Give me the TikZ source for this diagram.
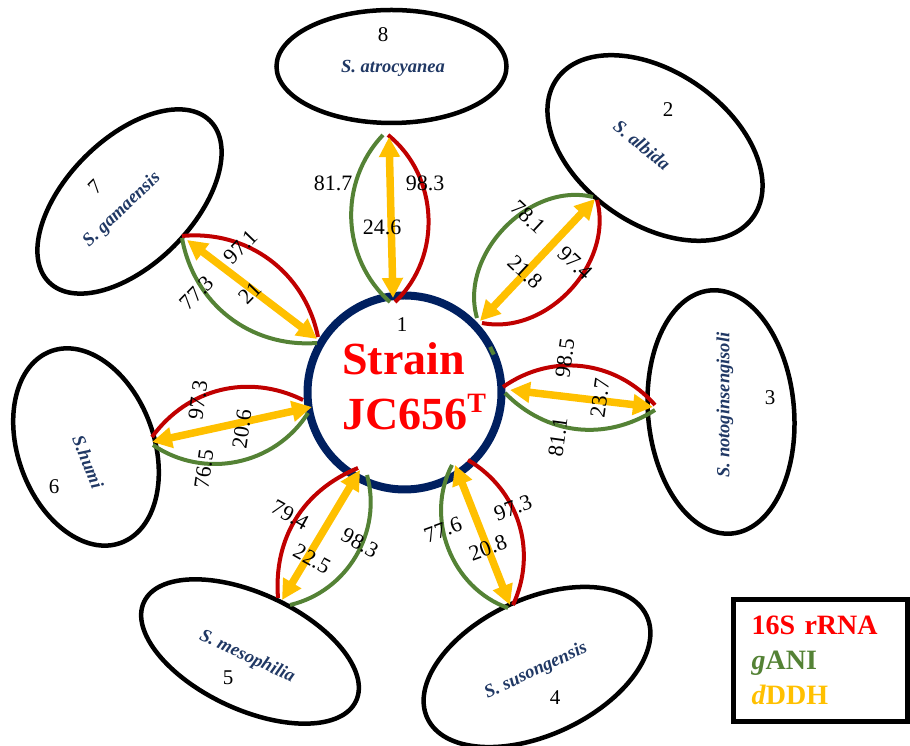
\documentclass[tikz,border=0pt]{standalone}
\usepackage{fontspec}
\setmainfont{Liberation Serif}
\usetikzlibrary{arrows.meta, shapes.geometric}
\definecolor{ringblue}{HTML}{002060}
\definecolor{taxblue}{HTML}{203864}
\definecolor{rrnared}{HTML}{C00000}
\definecolor{anigreen}{HTML}{548235}
\definecolor{ddhgold}{HTML}{FFC000}
\definecolor{keyred}{HTML}{FF0000}
\tikzset{
  ring/.style = {draw=ringblue, circle, line width=8pt, minimum size=194pt, inner sep=0pt, outer sep=0pt},
  taxon/.style = {draw, ellipse, line width=4.5pt, inner sep=0pt},
  taxname/.style = {text=taxblue, font=\fontsize{18.5}{22}\selectfont\bfseries\itshape, inner sep=0pt},
  idx/.style = {font=\fontsize{21}{24}\selectfont, inner sep=0pt},
  val/.style = {font=\fontsize{22}{26}\selectfont, inner sep=0pt},
  rrna/.style = {draw=rrnared, line width=4pt},
  gani/.style = {draw=anigreen, line width=4pt},
  dddh/.style = {draw=ddhgold, line width=7.5pt, >={Triangle[length=20pt,width=20pt]}, <->},
  strainname/.style = {anchor=base west, text=keyred, font=\fontsize{46}{55}\selectfont\bfseries, inner sep=0pt},
  keybox/.style = {draw, line width=5.7pt, minimum width=174pt, minimum height=122pt, inner xsep=18pt,
                   text width=138pt, align=left, font=\fontsize{28}{35}\selectfont\bfseries}
}

\begin{document}
\begin{tikzpicture}[x=1pt, y=1pt]
    \useasboundingbox (0,0) rectangle (910,746);

    % The reference strains
    \node [taxon, minimum width=230pt, minimum height=113pt] (e8) at (391.5,679.5) {};
    \node [taxon, minimum width=240pt, minimum height=152pt, rotate=-35] (e2) at (655,598) {};
    \node [taxon, minimum width=146pt, minimum height=244pt, rotate=5] (e3) at (721,334) {};
    \node [taxon, minimum width=242pt, minimum height=136pt, rotate=25] (e4) at (537,79) {};
    \node [taxon, minimum width=234pt, minimum height=116pt, rotate=-25] (e5) at (250,94.5) {};
    \node [taxon, minimum width=204pt, minimum height=136pt, rotate=-70] (e6) at (86,299) {};
    \node [taxon, minimum width=228pt, minimum height=126pt, rotate=45] (e7) at (129.5,544.5) {};

    % The new strain
    \node [ring] (strain) at (404.5,353.5) {};
    \draw [gani] (strain.23) -- (strain.28.5);

    % 8 -- S. atrocyanea
    \coordinate (r8i) at (395,444); \coordinate (r8o) at (388,611);
    \coordinate (g8i) at (390,444); \coordinate (g8o) at (383,611);
    \coordinate (y8i) at (393,448); \coordinate (y8o) at (389,609);
    \draw [rrna] (r8i) to[bend right=49] (r8o);
    \draw [gani] (g8i) to[bend left=46] (g8o);
    \draw [dddh] (y8i) -- (y8o);

    % 2 -- S. albida
    \coordinate (r2i) at (482,423); \coordinate (r2o) at (597,546);
    \coordinate (g2i) at (477,428); \coordinate (g2o) at (593,549);
    \coordinate (y2i) at (480,425); \coordinate (y2o) at (595,547);
    \draw [rrna] (r2i) to[bend right=58] (r2o);
    \draw [gani] (g2i) to[bend left=60] (g2o);
    \draw [dddh] (y2i) -- (y2o);

    % 3 -- S. notoginsengisoli
    \coordinate (r3i) at (503,359); \coordinate (r3o) at (655,341);
    \coordinate (g3i) at (505,353); \coordinate (g3o) at (655,336);
    \coordinate (y3i) at (510,356); \coordinate (y3o) at (653,339);
    \draw [rrna] (r3i) to[bend left=42] (r3o);
    \draw [gani] (g3i) to[bend right=39] (g3o);
    \draw [dddh] (y3i) -- (y3o);

    % 4 -- S. susongensis
    \coordinate (r4i) at (468,286); \coordinate (r4o) at (513,141);
    \coordinate (g4i) at (452,281); \coordinate (g4o) at (508,138);
    \coordinate (y4i) at (455,281); \coordinate (y4o) at (510,141);
    \draw [rrna] (r4i) to[bend left=42] (r4o);
    \draw [gani] (g4i) to[bend right=49] (g4o);
    \draw [dddh] (y4i) -- (y4o);

    % 5 -- S. mesophilia
    \coordinate (r5i) at (358,278); \coordinate (r5o) at (278,148);
    \coordinate (g5i) at (367,271); \coordinate (g5o) at (290,141);
    \coordinate (y5i) at (360,276); \coordinate (y5o) at (282,146);
    \draw [rrna] (r5i) to[bend right=36] (r5o);
    \draw [gani] (g5i) to[bend left=46] (g5o);
    \draw [dddh] (y5i) -- (y5o);

    % 6 -- S. humi
    \coordinate (r6i) at (303,346); \coordinate (r6o) at (152,309);
    \coordinate (g6i) at (308,333); \coordinate (g6o) at (153,301);
    \coordinate (y6i) at (312,339); \coordinate (y6o) at (152,304);
    \draw [rrna] (r6i) to[bend right=40] (r6o);
    \draw [gani] (g6i) to[bend left=46] (g6o);
    \draw [dddh] (y6i) -- (y6o);

    % 7 -- S. gamaensis
    \coordinate (r7i) at (318,409); \coordinate (r7o) at (182,510);
    \coordinate (g7i) at (317,403); \coordinate (g7o) at (182,508);
    \coordinate (y7i) at (317,407); \coordinate (y7o) at (187,506);
    \draw [rrna] (r7i) to[bend right=42] (r7o);
    \draw [gani] (g7i) to[bend left=42] (g7o);
    \draw [dddh] (y7i) -- (y7o);

    % Values: 16S rRNA, gANI, dDDH
    \node [val] (v8r) at (425,563) {98.3};
    \node [val] (v8g) at (333,563) {81.7};
    \node [val] (v8d) at (382,519) {24.6};
    \node [val, rotate=-43] (v2r) at (575,483) {97.4};
    \node [val, rotate=-43] (v2g) at (528,529) {78.1};
    \node [val, rotate=-43] (v2d) at (525,474) {21.8};
    \node [val, rotate=82] (v3r) at (565,388) {98.5};
    \node [val, rotate=82] (v3g) at (558,309) {81.1};
    \node [val, rotate=82] (v3d) at (600,348) {23.7};
    \node [val, rotate=20] (v4r) at (513,238) {97.3};
    \node [val, rotate=20] (v4g) at (443,216) {77.6};
    \node [val, rotate=20] (v4d) at (488,198) {20.8};
    \node [val, rotate=-29] (v5r) at (290,231) {79.4};
    \node [val, rotate=-29] (v5g) at (360,203) {98.3};
    \node [val, rotate=-29] (v5d) at (312,187) {22.5};
    \node [val, rotate=82] (v6r) at (198,346) {97.3};
    \node [val, rotate=82] (v6g) at (204,277) {76.5};
    \node [val, rotate=82] (v6d) at (242,317) {20.6};
    \node [val, rotate=46] (v7r) at (241,499) {97.1};
    \node [val, rotate=46] (v7g) at (197,453) {77.3};
    \node [val, rotate=46] (v7d) at (250,453) {21};

    % Names and numbers
    \node [taxname] (n8) at (393,678) {S. atrocyanea};
    \node [taxname, rotate=-39] (n2) at (642,601) {S. albida};
    \node [taxname, rotate=90] (n3) at (725,341) {S. notoginsengisoli};
    \node [taxname, rotate=25] (n4) at (536,75) {S. susongensis};
    \node [taxname, rotate=-25] (n5) at (247,89) {S. mesophilia};
    \node [taxname, rotate=-68] (n6) at (88,284) {S.humi};
    \node [taxname, rotate=44] (n7) at (122,536) {S. gamaensis};
    \node [idx] (i1) at (402,421) {1};
    \node [idx] (i2) at (668,636) {2};
    \node [idx] (i3) at (770,348) {3};
    \node [idx] (i4) at (555,48) {4};
    \node [idx] (i5) at (228,68) {5};
    \node [idx] (i6) at (54,259) {6};
    \node [idx, rotate=45] (i7) at (95,559) {7};
    \node [idx] (i8) at (383,711) {8};

    \node [strainname] (strainA) at (342,371) {Strain};
    \node [strainname] (strainB) at (342,316) {JC656\raisebox{17pt}{\fontsize{28}{28}\selectfont T}};

    % Key
    \node [keybox] (key) at (820.6,85.5)
      {{\color{keyred}16S rRNA}\\{\color{anigreen}\textit{g}ANI}\\{\color{ddhgold}\textit{d}DDH}};

\end{tikzpicture}
\end{document}
